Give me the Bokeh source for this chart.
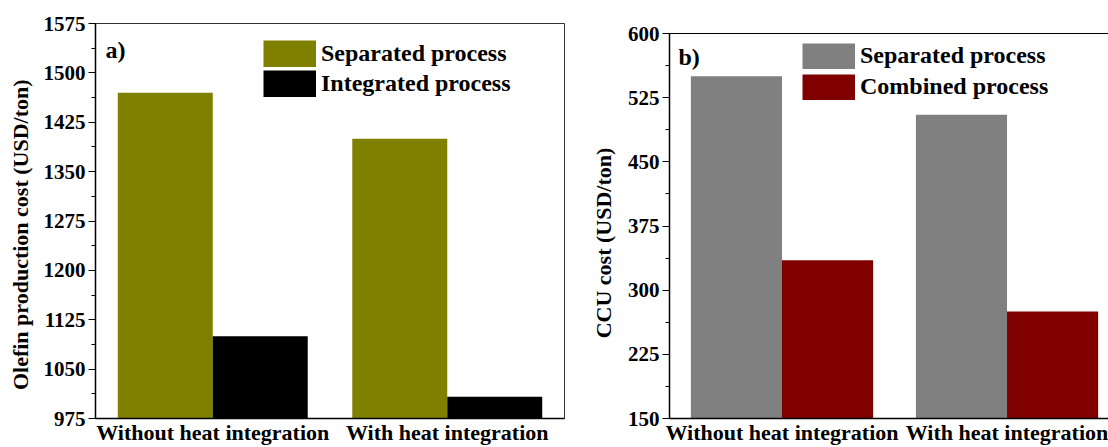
from bokeh.plotting import figure
from bokeh.layouts import row
from bokeh.models import (Range1d, FixedTicker, SingleIntervalTicker, Legend, LegendItem,
                          Label, Span)
from bokeh.embed import file_html
from bokeh.resources import INLINE

# ---- data ----
categories = ["Without heat integration", "With heat integration"]

a_series_names = ["Separated process", "Integrated process"]
a_separated = [1470, 1400]
a_integrated = [1100, 1008]

b_series_names = ["Separated process", "Combined process"]
b_separated = [550, 505]
b_combined = [335, 275]

FONT = "Liberation Serif"
NB = "\u00a0"
H = 447
BW = 0.405
OFF = 0.2025
idx = list(range(len(categories)))
labels = {i: c for i, c in zip(idx, categories)}


def style(p):
    p.yaxis.ticker = SingleIntervalTicker(interval=75, num_minor_ticks=2)
    p.xaxis.ticker = FixedTicker(ticks=idx)
    p.xaxis.major_label_overrides = labels
    for ax in (p.xaxis[0], p.yaxis[0]):
        ax.axis_line_color = "black"
        ax.axis_line_width = 1.5
        ax.major_label_text_font = FONT
        ax.major_label_text_font_style = "bold"
        ax.major_label_text_color = "black"
        ax.axis_label_text_font = FONT
        ax.axis_label_text_font_style = "bold"
        ax.axis_label_text_font_size = "22px"
        ax.axis_label_text_color = "black"
    p.xaxis.major_label_text_font_size = "22px"
    p.yaxis.major_label_text_font_size = "21px"
    p.xaxis.major_tick_line_color = None
    p.xaxis.minor_tick_line_color = None
    p.xaxis.major_label_standoff = -5
    p.yaxis.major_tick_out = 7
    p.yaxis.major_tick_in = 0
    p.yaxis.minor_tick_out = 4
    p.yaxis.minor_tick_in = 0
    p.yaxis.major_tick_line_width = 1.2
    p.yaxis.minor_tick_line_width = 1.2
    p.yaxis.major_label_standoff = 3
    p.xgrid.visible = False
    p.ygrid.visible = False
    p.background_fill_color = "white"
    p.border_fill_color = "white"


def make_legend(p, names, colors, vx, vy, gh, sp, y0):
    items = []
    for n, c in zip(names, colors):
        r = p.line(x=[0], y=[y0], line_color=c, line_width=gh, line_cap="butt")
        items.append(LegendItem(label=n, renderers=[r]))
    lg = Legend(items=items, location=(vx, vy), padding=0, margin=0, spacing=sp,
                glyph_width=53, glyph_height=gh, label_height=gh, label_standoff=5,
                border_line_color=None, background_fill_alpha=0,
                label_text_font=FONT, label_text_font_style="bold",
                label_text_font_size="24px", label_text_color="black")
    p.add_layout(lg, "center")


# ---- panel a ----
pa = figure(width=577, height=H, output_backend="svg", toolbar_location=None,
            x_range=Range1d(-0.5, 1.5), y_range=Range1d(975, 1575),
            min_border_left=95, min_border_right=13, min_border_top=23, min_border_bottom=29)
style(pa)
pa.yaxis.axis_label = "Olefin production cost (USD/ton)" + NB * 5
pa.yaxis.axis_label_standoff = 8
pa.outline_line_color = "black"
pa.outline_line_width = 1
pa.outline_line_alpha = 0.8
pa.vbar(x=[i - OFF for i in idx], top=a_separated, width=BW, bottom=975,
        fill_color="#808000", line_color=None)
pa.vbar(x=[i + OFF for i in idx], top=a_integrated, width=BW, bottom=975,
        fill_color="#000000", line_color=None)
make_legend(pa, a_series_names, ["#808000", "#000000"], 168, 321, 27, 3, 975)
pa.add_layout(Label(x=10, y=382, x_units="screen", y_units="screen", text="a)",
                    text_font=FONT, text_font_style="bold", text_font_size="24px",
                    text_baseline="top", text_color="black"))

# ---- panel b ----
b_top = 600 + 10 * 450 / 385
pb = figure(width=1108 - 577, height=H, output_backend="svg", toolbar_location=None,
            x_range=Range1d(-0.5, 1.451), y_range=Range1d(150, b_top),
            min_border_left=92, min_border_right=0, min_border_top=23, min_border_bottom=29)
style(pb)
pb.yaxis.axis_label = "CCU cost (USD/ton)" + NB * 8
pb.yaxis.axis_label_standoff = 9
pb.yaxis.bounds = (150, 600)
pb.outline_line_color = None
pb.add_layout(Span(location=600, dimension="width", line_color="black", line_width=1.2))
pb.vbar(x=[i - OFF for i in idx], top=b_separated, width=BW, bottom=150,
        fill_color="#808080", line_color=None)
pb.vbar(x=[i + OFF for i in idx], top=b_combined, width=BW, bottom=150,
        fill_color="#800000", line_color=None)
make_legend(pb, b_series_names, ["#808080", "#800000"], 133, 318, 26, 4, 150)
pb.add_layout(Label(x=9, y=375, x_units="screen", y_units="screen", text="b)",
                    text_font=FONT, text_font_style="bold", text_font_size="24px",
                    text_baseline="top", text_color="black"))

layout = row(pa, pb, spacing=0)
open("out.html", "w").write(file_html(layout, INLINE))
